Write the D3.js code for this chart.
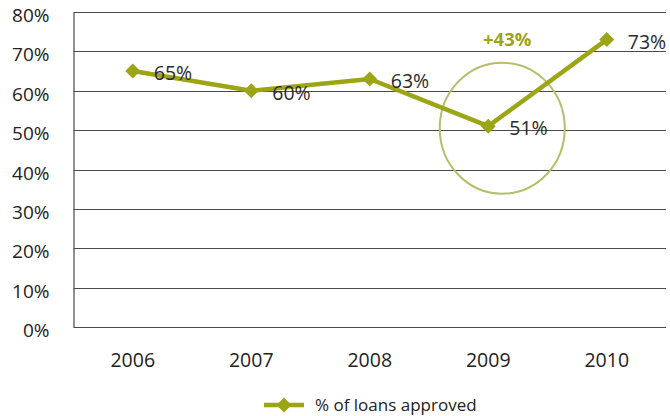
<!DOCTYPE html>
<html>
<head>
<meta charset="utf-8">
<script src="https://cdn.jsdelivr.net/npm/d3@7"></script>
<style>
  html, body { margin: 0; padding: 0; background: #fff; }
  svg { display: block; font-family: "Open Sans", sans-serif; }
</style>
</head>
<body>
<svg id="chart" width="670" height="416"></svg>
<script>
// Loan approval rate by year
const years = ["2006", "2007", "2008", "2009", "2010"];
const approved = [65, 60, 63, 51, 73];
const yTicks = [0, 10, 20, 30, 40, 50, 60, 70, 80];
const seriesName = "% of loans approved";
const changeLabel = "+43%";
const highlightYear = "2009";

const lineColor = "#9ca516";
const ringColor = "#b7bd6c";

const svg = d3.select("#chart");
const margin = { left: 73.5, right: 4, top: 12, bottom: 89 };
const W = 670, H = 416;

const x = d3.scaleBand().domain(years).range([margin.left, W - margin.right]);
const y = d3.scaleLinear().domain([0, 80]).range([H - margin.bottom, margin.top]);

// horizontal gridlines
svg.append("g").selectAll("line").data(yTicks).join("line")
  .attr("x1", margin.left).attr("x2", W - margin.right)
  .attr("y1", d => Math.round(y(d)) + 0.5).attr("y2", d => Math.round(y(d)) + 0.5)
  .attr("stroke", "#4a4a4a").attr("stroke-width", 1.2);

// value axis
const yAxis = svg.append("g")
  .attr("transform", `translate(${margin.left},0)`)
  .call(d3.axisLeft(y).tickValues(yTicks).tickFormat(d => d + "%").tickSize(0).tickPadding(24));
yAxis.select(".domain").attr("stroke", "#4a4a4a").attr("stroke-width", 1.2);
yAxis.selectAll("text")
  .attr("font-size", 19).attr("fill", "#222").attr("dy", "0.5em")
  .style("font-family", "'Open Sans', sans-serif");

// category axis
const xAxis = svg.append("g")
  .attr("transform", `translate(0,${H - margin.bottom})`)
  .call(d3.axisBottom(x).tickSize(0).tickPadding(26));
xAxis.select(".domain").remove();
xAxis.selectAll("text")
  .attr("font-size", 19.5).attr("fill", "#222")
  .style("font-family", "'Open Sans', sans-serif");

// highlight ring around the low point
const hx = x(highlightYear) + x.bandwidth() / 2 + 14;
svg.append("ellipse")
  .attr("cx", hx).attr("cy", y(approved[years.indexOf(highlightYear)]) + 2)
  .attr("rx", 62.5).attr("ry", 65.5)
  .attr("fill", "none").attr("stroke", ringColor).attr("stroke-width", 2);

// change annotation
svg.append("text")
  .attr("x", hx + 5).attr("y", 46)
  .attr("text-anchor", "middle")
  .attr("font-size", 18.5).attr("font-weight", "bold").attr("fill", lineColor)
  .text(changeLabel);

// series line
const pts = years.map((yr, i) => [x(yr) + x.bandwidth() / 2, y(approved[i])]);
svg.append("path")
  .attr("d", d3.line()(pts))
  .attr("fill", "none").attr("stroke", lineColor)
  .attr("stroke-width", 4.5).attr("stroke-linejoin", "miter");

const diamond = d3.symbol().type(d3.symbolSquare).size(112);
svg.append("g").selectAll("path").data(pts).join("path")
  .attr("d", diamond)
  .attr("transform", d => `translate(${d[0]},${d[1]}) rotate(45)`)
  .attr("fill", lineColor);

// value labels
svg.append("g").selectAll("text").data(pts).join("text")
  .attr("x", d => d[0] + 21).attr("y", d => d[1] + 9)
  .attr("font-size", 19.5).attr("fill", "#2a2a2a")
  .text((d, i) => approved[i] + "%");

// legend
const lg = svg.append("g").attr("transform", "translate(264,405)");
lg.append("line").attr("x1", 0).attr("x2", 40).attr("stroke", lineColor).attr("stroke-width", 4.5);
lg.append("path").attr("d", diamond).attr("transform", "translate(20,0) rotate(45)").attr("fill", lineColor);
lg.append("text").attr("x", 51).attr("y", 6)
  .attr("font-size", 17).attr("fill", "#222")
  .text(seriesName);
</script>
</body>
</html>
